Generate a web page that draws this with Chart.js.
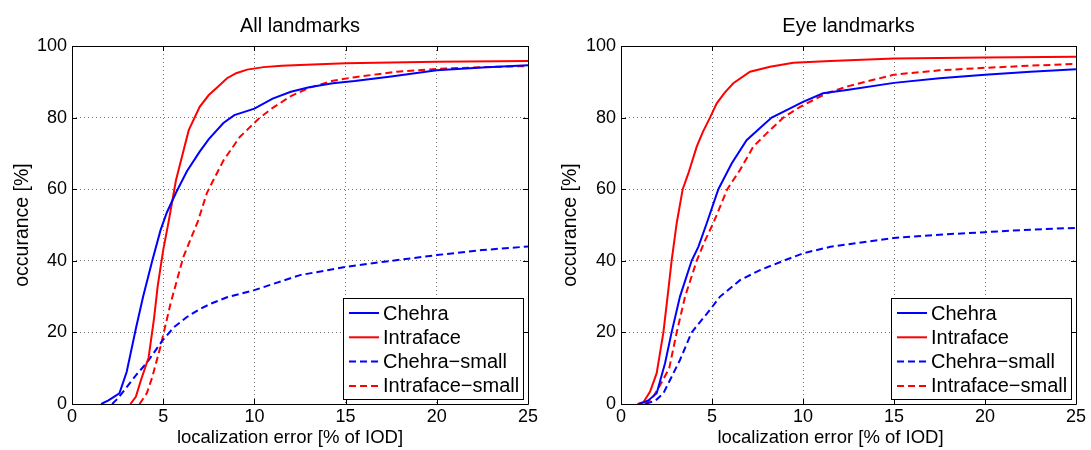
<!DOCTYPE html>
<html>
<head>
<meta charset="utf-8">
<script src="https://cdn.jsdelivr.net/npm/chart.js@4"></script>
<style>
  body { margin: 0; background: #fff; }
  #wrap { position: relative; width: 1091px; height: 450px; }
  canvas { position: absolute; top: 0; }
  #allChart { left: 0; }
  #eyeChart { left: 545px; }
</style>
</head>
<body>
<div id="wrap">
  <canvas id="allChart" width="545" height="450"></canvas>
  <canvas id="eyeChart" width="546" height="450"></canvas>
</div>
<script>
// Cumulative error curves: localization error [% of IOD] -> occurance [%]

// All landmarks
const allChehraErr = [1.6, 2.0, 2.6, 3.0, 3.5, 3.9, 4.4, 4.85, 5.2, 5.7, 6.3, 7.0, 7.5, 8.3, 8.9, 10, 11, 12, 13, 14.3, 15.5, 17.5, 20, 22.5, 25];
const allChehraOcc = [0, 1, 3, 9, 21, 30, 40, 48.5, 53.5, 59, 65, 70.5, 74, 78.5, 80.7, 82.5, 85.3, 87.2, 88.5, 89.6, 90.2, 91.5, 93.2, 94, 94.6];
const allIntraErr = [3.2, 3.5, 3.8, 4.2, 4.5, 4.7, 5.0, 5.3, 5.7, 6.0, 6.4, 7.0, 7.5, 8.0, 8.5, 9.0, 9.6, 10.5, 11.5, 12.5, 15, 20, 25];
const allIntraOcc = [0, 2, 7, 13, 24, 33, 43, 51, 62.5, 68.5, 76.5, 83, 86.3, 88.6, 91, 92.4, 93.4, 94.1, 94.5, 94.7, 95.2, 95.6, 95.8];
const allChehraSmallErr = [2.2, 2.5, 3.0, 3.5, 4.1, 5.0, 5.6, 6.3, 7.0, 7.6, 8.5, 10, 11, 12.5, 15, 17.5, 20, 22.5, 25];
const allChehraSmallOcc = [0, 1.5, 4.7, 8, 11.5, 18, 21.5, 24.3, 26.5, 28, 29.8, 31.8, 33.5, 36, 38.3, 40, 41.6, 43, 44];
const allIntraSmallErr = [3.7, 4.1, 4.4, 4.85, 5.4, 6.1, 6.9, 7.4, 8.3, 9.2, 10.3, 11, 12, 13, 14.3, 15.5, 17.8, 20, 22.5, 25];
const allIntraSmallOcc = [0, 3, 7.5, 16, 28, 41, 51, 59, 68, 74.6, 80, 82.7, 86, 88.3, 90.3, 91.3, 92.8, 93.6, 94.1, 94.4];

// Eye landmarks
const eyeChehraErr = [1.0, 1.5, 1.96, 2.42, 2.78, 3.24, 3.88, 4.25, 4.71, 5.35, 6.08, 6.9, 7.73, 8.28, 9.1, 10.0, 11.1, 12.5, 15, 17.5, 20, 22.5, 25];
const eyeChehraOcc = [0, 1, 3, 11.4, 20, 30, 40, 43.9, 50.5, 60, 67.2, 73.7, 77.5, 80, 82.1, 84.4, 86.8, 87.8, 89.7, 91, 92, 92.8, 93.5];
const eyeIntraErr = [0.9, 1.23, 1.6, 1.96, 2.33, 2.6, 2.78, 3.06, 3.39, 3.7, 4.16, 4.5, 4.89, 5.26, 5.7, 6.17, 7.09, 8.19, 9.47, 11.5, 15, 20, 25];
const eyeIntraOcc = [0, 0.5, 3.5, 8.6, 20, 31.8, 40, 50.5, 60, 64.4, 71.9, 76, 80, 84, 87, 89.6, 92.8, 94.2, 95.3, 95.8, 96.5, 96.8, 97];
const eyeChehraSmallErr = [1.35, 1.9, 2.33, 3.24, 3.88, 4.89, 5.44, 6.54, 7.64, 8.92, 10.0, 11.5, 15, 17.5, 20, 22.5, 25];
const eyeChehraSmallOcc = [0, 1, 3, 12.3, 20, 26.3, 30, 34.6, 37.4, 40, 42.1, 43.9, 46.4, 47.3, 48, 48.7, 49.2];
const eyeIntraSmallErr = [1.3, 1.7, 2.1, 2.65, 3.06, 3.52, 4.16, 4.6, 5.07, 5.84, 6.54, 7.27, 8.0, 8.92, 9.84, 11.3, 12.5, 15, 17.5, 20, 22.5, 25];
const eyeIntraSmallOcc = [0, 1.5, 4.8, 10, 20, 30, 40, 45.5, 50.5, 60, 65.4, 71.9, 75.6, 80, 83, 86.8, 88.8, 92, 93.2, 93.9, 94.5, 95];

const seriesLabels = ["Chehra", "Intraface", "Chehra\u2212small", "Intraface\u2212small"];
const xTicks = [0, 5, 10, 15, 20, 25];
const yTicks = [0, 20, 40, 60, 80, 100];
const xTitle = "localization error [% of IOD]";
const yTitle = "occurance [%]";

const FONT = "'Liberation Sans', Arial, Helvetica, sans-serif";
Chart.defaults.font.family = FONT;
Chart.defaults.color = "#000";

const BLUE = "#0000ff";
const RED = "#ff0000";
const DASH = [7, 4];

function toPoints(xs, ys) {
  return xs.map((x, i) => ({ x: x, y: ys[i] }));
}

// Box around the plot area with inward tick marks on all four sides
const framePlugin = {
  id: "frame",
  afterDraw(chart) {
    const { ctx, chartArea: a, scales } = chart;
    const len = 5;
    ctx.save();
    ctx.strokeStyle = "#000";
    ctx.lineWidth = 1;
    ctx.beginPath();
    ctx.rect(Math.round(a.left) + 0.5, Math.round(a.top) + 0.5,
      Math.round(a.right - a.left), Math.round(a.bottom - a.top));
    scales.x.ticks.forEach((t) => {
      const px = Math.round(scales.x.getPixelForValue(t.value)) + 0.5;
      ctx.moveTo(px, a.bottom); ctx.lineTo(px, a.bottom - len);
      ctx.moveTo(px, a.top); ctx.lineTo(px, a.top + len);
    });
    scales.y.ticks.forEach((t) => {
      const py = Math.round(scales.y.getPixelForValue(t.value)) + 0.5;
      ctx.moveTo(a.left, py); ctx.lineTo(a.left + len, py);
      ctx.moveTo(a.right, py); ctx.lineTo(a.right - len, py);
    });
    ctx.stroke();
    ctx.restore();
  },
};

// x-axis label, sits a little left of the plot centre
const xTitlePlugin = {
  id: "xTitle",
  afterDraw(chart, args, opts) {
    const { ctx, chartArea: a } = chart;
    ctx.save();
    ctx.font = "18.5px " + FONT;
    ctx.fillStyle = "#000";
    ctx.textAlign = "center";
    ctx.textBaseline = "middle";
    ctx.fillText(opts.text, (a.left + a.right) / 2 + opts.shift, 438);
    ctx.restore();
  },
};

// Legend box in the lower right corner of the plot area
const legendBoxPlugin = {
  id: "legendBox",
  afterDraw(chart) {
    const { ctx, chartArea: a } = chart;
    const sets = chart.data.datasets;
    ctx.save();
    ctx.font = "20px " + FONT;
    const textW = Math.max(...sets.map((d) => ctx.measureText(d.label).width));
    const rowH = 24.3;
    const sample = 30;
    const w = Math.round(6 + sample + 4 + textW + 4);
    const h = 101;
    const right = Math.round(a.right) - 5;
    const bottom = Math.round(a.bottom) - 5;
    const left = right - w;
    const top = bottom - h;
    ctx.fillStyle = "#fff";
    ctx.fillRect(left, top, w, h);
    ctx.strokeStyle = "#000";
    ctx.lineWidth = 1;
    ctx.strokeRect(left + 0.5, top + 0.5, w, h);
    sets.forEach((d, i) => {
      const cy = top + 15 + i * rowH;
      ctx.beginPath();
      ctx.strokeStyle = d.borderColor;
      ctx.lineWidth = d.borderWidth;
      ctx.setLineDash(d.borderDash || []);
      ctx.moveTo(left + 6, cy);
      ctx.lineTo(left + 6 + sample, cy);
      ctx.stroke();
      ctx.setLineDash([]);
      ctx.fillStyle = "#000";
      ctx.textBaseline = "middle";
      ctx.textAlign = "left";
      ctx.fillText(d.label, left + 6 + sample + 4, cy + 1);
    });
    ctx.restore();
  },
};

function makeChart(id, title, errs, occs, yWidth, padRight, yTitlePad, xShift) {
  const colors = [BLUE, RED, BLUE, RED];
  const dashes = [[], [], DASH, DASH];
  return new Chart(document.getElementById(id), {
    type: "line",
    data: {
      datasets: seriesLabels.map((label, i) => ({
        label: label,
        data: toPoints(errs[i], occs[i]),
        borderColor: colors[i],
        borderDash: dashes[i],
        borderWidth: 2,
        pointRadius: 0,
        tension: 0,
        fill: false,
      })),
    },
    options: {
      responsive: false,
      animation: false,
      events: [],
      layout: { padding: { left: 0, right: padRight, top: 0, bottom: 0 } },
      plugins: {
        legend: { display: false },
        tooltip: { enabled: false },
        title: {
          display: true,
          text: title,
          fullSize: false,
          color: "#000",
          font: { size: 20, weight: "normal", lineHeight: 1.2 },
          padding: { top: 14, bottom: 8 },
        },
        xTitle: { text: xTitle, shift: xShift },
      },
      scales: {
        x: {
          type: "linear",
          min: 0,
          max: 25,
          afterBuildTicks: (s) => { s.ticks = xTicks.map((v) => ({ value: v })); },
          afterFit: (s) => { s.height = 46; },
          ticks: { font: { size: 18 }, padding: 2, maxRotation: 0 },
          grid: { color: "rgba(0,0,0,0.55)", lineWidth: 1, drawTicks: false },
          border: { display: false, dash: [1, 3] },
        },
        y: {
          type: "linear",
          min: 0,
          max: 100,
          afterBuildTicks: (s) => { s.ticks = yTicks.map((v) => ({ value: v })); },
          afterFit: (s) => { s.width = yWidth; },
          ticks: { font: { size: 18 }, padding: 5 },
          grid: { color: "rgba(0,0,0,0.55)", lineWidth: 1, drawTicks: false },
          border: { display: false, dash: [1, 3] },
          title: {
            display: true,
            text: yTitle,
            font: { size: 19.5, lineHeight: 1.2 },
            padding: { top: yTitlePad, bottom: 0 },
          },
        },
      },
    },
    plugins: [framePlugin, xTitlePlugin, legendBoxPlugin],
  });
}

makeChart("allChart", "All landmarks",
  [allChehraErr, allIntraErr, allChehraSmallErr, allIntraSmallErr],
  [allChehraOcc, allIntraOcc, allChehraSmallOcc, allIntraSmallOcc],
  72, 17, 11, -10);

makeChart("eyeChart", "Eye landmarks",
  [eyeChehraErr, eyeIntraErr, eyeChehraSmallErr, eyeIntraSmallErr],
  [eyeChehraOcc, eyeIntraOcc, eyeChehraSmallOcc, eyeIntraSmallOcc],
  76, 15, 14, -18);
</script>
</body>
</html>
